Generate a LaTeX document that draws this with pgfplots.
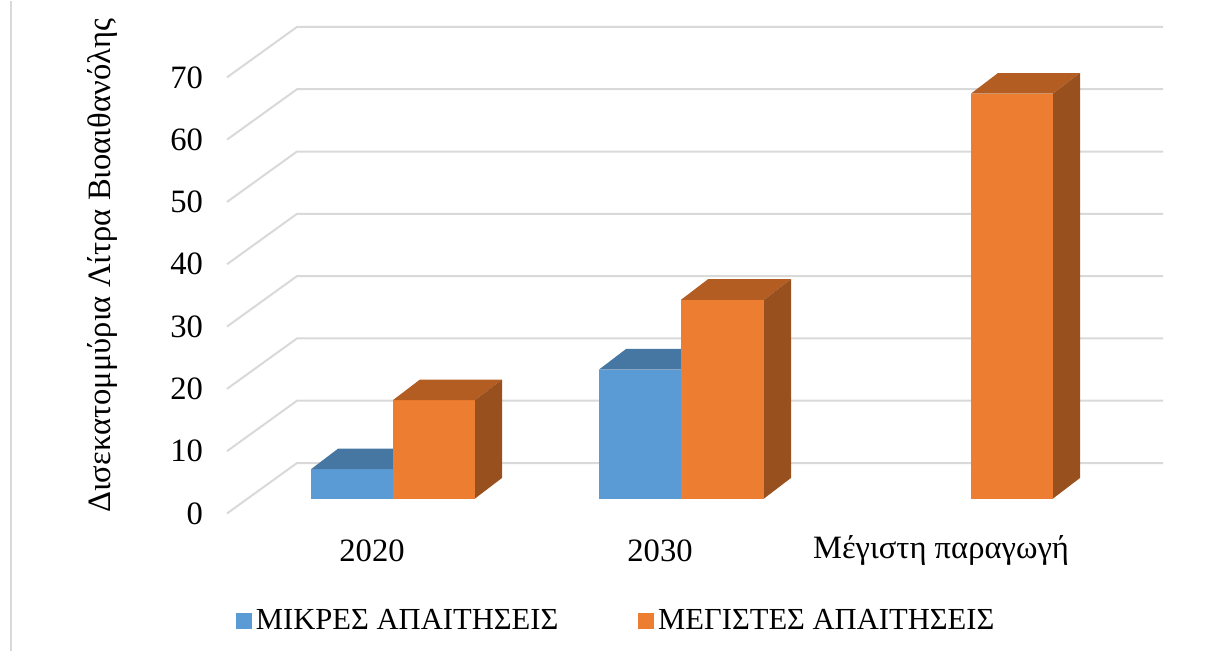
\documentclass[border=0pt]{standalone}
\usepackage{pgfplots}
\pgfplotsset{compat=1.18}
\usepackage{fontspec}
\setmainfont{Liberation Serif}
\definecolor{bfront}{HTML}{5B9BD5}
\definecolor{btop}{HTML}{4677A3}
\definecolor{ofront}{HTML}{ED7D31}
\definecolor{otop}{HTML}{B35D22}
\definecolor{oside}{HTML}{98501E}
\definecolor{gridc}{HTML}{D9D9D9}
\newcommand\myfont{\fontsize{16.3}{19}\selectfont}
\newcommand\legfont{\fontsize{15.3}{18}\selectfont}
% #1 left x, #2 width, #3 value, #4 front, #5 top, #6 side
\newcommand\bartd[6]{%
 \pgfmathsetmacro\bXa{#1}%
 \pgfmathsetmacro\bXb{#1+#2}%
 \pgfmathsetmacro\bXc{#1+27}%
 \pgfmathsetmacro\bXd{#1+#2+27}%
 \pgfmathsetmacro\bYa{2.4}%
 \pgfmathsetmacro\bYb{2.4+#3}%
 \pgfmathsetmacro\bYc{2.4+#3+3.3}%
 \pgfmathsetmacro\bYd{2.4+3.3}%
 \edef\tmp{%
  \noexpand\addplot[fill=#4,draw=none,forget plot] coordinates {(\bXa,\bYa) (\bXb,\bYa) (\bXb,\bYb) (\bXa,\bYb)};
  \noexpand\addplot[fill=#5,draw=none,forget plot] coordinates {(\bXa,\bYb) (\bXb,\bYb) (\bXd,\bYc) (\bXc,\bYc)};
  \noexpand\addplot[fill=#6,draw=none,forget plot] coordinates {(\bXb,\bYa) (\bXd,\bYd) (\bXd,\bYc) (\bXb,\bYb)};
 }\tmp}
\begin{document}
\begin{tikzpicture}
\begin{axis}[
 x=0.5pt, y=3.115pt,
 xmin=227, xmax=1163, ymin=0, ymax=78.1,
 clip=false,
 axis line style={draw=none},
 major tick length=0pt,
 ytick={0,10,...,70},
 xtick={372,660,941},
 xticklabels={2020,2030,Μέγιστη παραγωγή},
 /pgf/number format/assume math mode=true,
 tick label style={font=\myfont},
 yticklabel style={anchor=east, xshift=-8.5pt},
 xticklabel style={anchor=center, yshift=-18.5pt},
 ylabel={Δισεκατομμύρια Λίτρα Βιοαιθανόλης},
 every axis y label/.style={at={(axis description cs:-0.1325,0.5087)}, rotate=90, anchor=center, font=\myfont},
 legend style={draw=none, fill=none, at={(axis description cs:0.417,-0.221)}, anchor=center, font=\legfont,
   /tikz/every even column/.append style={column sep=38pt}},
 legend columns=2,
 legend cell align=left,
]
\addlegendimage{legend image code/.code={\fill[bfront] (0pt,-3.8pt) rectangle (7.5pt,3.7pt);}}
\addlegendentry{ΜΙΚΡΕΣ ΑΠΑΙΤΗΣΕΙΣ}
\addlegendimage{legend image code/.code={\fill[ofront] (0pt,-3.8pt) rectangle (7.5pt,3.7pt);}}
\addlegendentry{ΜΕΓΙΣΤΕΣ ΑΠΑΙΤΗΣΕΙΣ}
% gridlines (side wall + back wall)
\addplot[gridc, line width=1pt, forget plot] coordinates {(227,0) (297,8.1) (1163,8.1)};
\addplot[gridc, line width=1pt, forget plot] coordinates {(227,10) (297,18.1) (1163,18.1)};
\addplot[gridc, line width=1pt, forget plot] coordinates {(227,20) (297,28.1) (1163,28.1)};
\addplot[gridc, line width=1pt, forget plot] coordinates {(227,30) (297,38.1) (1163,38.1)};
\addplot[gridc, line width=1pt, forget plot] coordinates {(227,40) (297,48.1) (1163,48.1)};
\addplot[gridc, line width=1pt, forget plot] coordinates {(227,50) (297,58.1) (1163,58.1)};
\addplot[gridc, line width=1pt, forget plot] coordinates {(227,60) (297,68.1) (1163,68.1)};
\addplot[gridc, line width=1pt, forget plot] coordinates {(227,70) (297,78.1) (1163,78.1)};
% bars: 2020
\bartd{311}{82}{4.7}{bfront}{btop}{btop}
\bartd{393}{82}{15.8}{ofront}{otop}{oside}
% 2030
\bartd{599}{82}{20.7}{bfront}{btop}{btop}
\bartd{681}{83}{31.9}{ofront}{otop}{oside}
% Maximum production
\bartd{971}{82}{65.0}{ofront}{otop}{oside}
% frame line and bounding box
\draw[gridc, line width=1pt] (axis cs:11,-22.07) -- (axis cs:11,82.26);
\path (axis cs:0,-22.07) rectangle (axis cs:1208,82.26);
\end{axis}
\end{tikzpicture}
\end{document}
